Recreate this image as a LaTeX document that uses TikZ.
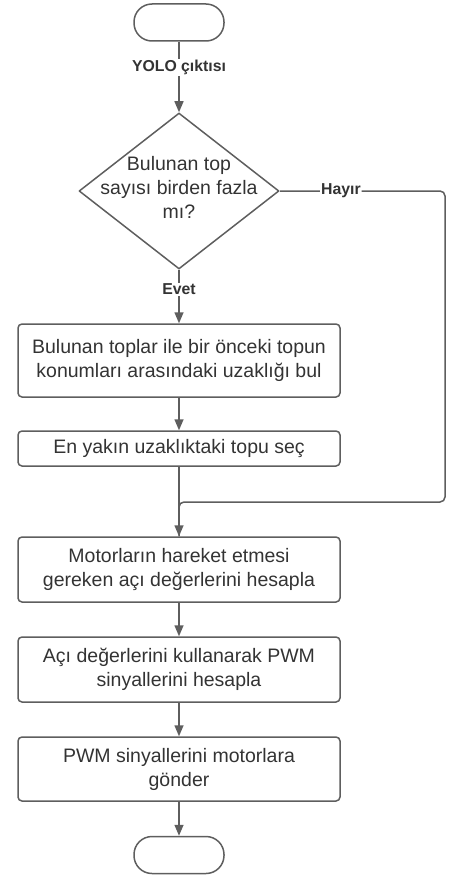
\documentclass[tikz,border=0pt]{standalone}
\usepackage{fontspec}
\setmainfont{Liberation Sans}
\usetikzlibrary{shapes.geometric}
\usetikzlibrary{arrows.meta}
\definecolor{edgegray}{HTML}{5E5E5E}
\definecolor{textgray}{HTML}{333333}
\tikzset{
  stepbox/.style={draw=edgegray,line width=1.5pt,rounded corners=4pt,minimum width=322pt,inner sep=0pt,
    align=center,text=textgray,font=\fontsize{19.5}{24}\selectfont},
  terminal/.style={draw=edgegray,line width=1.5pt,rounded corners=18pt,minimum width=90pt,minimum height=37pt},
  decision/.style={draw=edgegray,line width=1.5pt,line join=round,diamond,minimum width=200pt,minimum height=156pt,inner sep=0pt},
  dectext/.style={align=center,text=textgray,font=\fontsize{19.5}{24}\selectfont},
  flow/.style={draw=edgegray,line width=1.5pt},
  lbl/.style={fill=white,text=textgray,font=\fontsize{15.8}{18}\selectfont\bfseries,inner sep=1pt}
}
\begin{document}
\begin{tikzpicture}[x=1pt,y=-1pt,>={Triangle[length=11pt,width=9pt]}]
    \useasboundingbox (0,0) rectangle (451,875);
    \node[terminal] (start) at (179,22.5) {};
    \node[decision,label={[dectext,yshift=4pt]center:{Bulunan top\\sayısı birden fazla\\mı?}}] (dec) at (179,191) {};
    \node[stepbox,minimum height=73pt] (dist) at (179,360.5) {Bulunan toplar ile bir önceki topun\\konumları arasındaki uzaklığı bul};
    \node[stepbox,minimum height=35pt] (near) at (179,448.5) {En yakın uzaklıktaki topu seç};
    \node[stepbox,minimum height=65pt] (angle) at (179,569.5) {Motorların hareket etmesi\\gereken açı değerlerini hesapla};
    \node[stepbox,minimum height=65pt] (pwm) at (179,669.5) {Açı değerlerini kullanarak PWM\\sinyallerini hesapla};
    \node[stepbox,minimum height=64pt] (send) at (179,769) {PWM sinyallerini motorlara\\gönder};
    \node[terminal] (stop) at (179,855) {};
    \coordinate (turn) at (445,502);
    \coordinate (join) at (179,502);
    \draw[flow,->] (start) -- node[lbl,pos=0.37] {YOLO çıktısı} (dec);
    \draw[flow,->] (dec) -- node[lbl,pos=0.37] {Evet} (dist);
    \draw[flow,->] (dist) -- (near);
    \draw[flow,rounded corners=5pt] (dec.east) -- node[lbl,pos=0.37] {Hayır} (dec.east -| turn) -- (turn) -- (join) -- (angle.north);
    \draw[flow,->] (near) -- (angle);
    \draw[flow,->] (angle) -- (pwm);
    \draw[flow,->] (pwm) -- (send);
    \draw[flow,->] (send) -- (stop);
\end{tikzpicture}
\end{document}
